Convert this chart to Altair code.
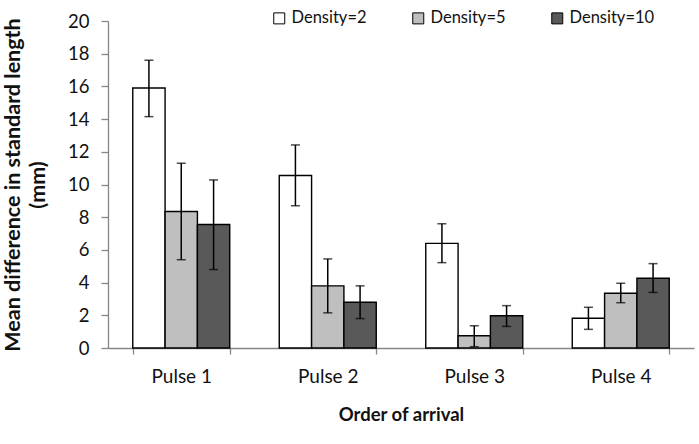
import altair as alt
import pandas as pd

pulses = ["Pulse 1", "Pulse 2", "Pulse 3", "Pulse 4"]
densities = ["Density=2", "Density=5", "Density=10"]
colors = ["#ffffff", "#bfbfbf", "#595959"]

# mean difference per pulse, one list per density
mean_d2 = [15.9, 10.55, 6.4, 1.82]
mean_d5 = [8.35, 3.8, 0.75, 3.35]
mean_d10 = [7.55, 2.8, 1.97, 4.27]

# error bar bounds
low_d2 = [14.15, 8.7, 5.22, 1.14]
high_d2 = [17.6, 12.42, 7.6, 2.49]
low_d5 = [5.4, 2.15, 0.08, 2.77]
high_d5 = [11.3, 5.45, 1.36, 3.96]
low_d10 = [4.8, 1.8, 1.32, 3.4]
high_d10 = [10.28, 3.8, 2.59, 5.16]

y_ticks = [0, 2, 4, 6, 8, 10, 12, 14, 16, 18, 20]

rows = []
for dens, means, lows, highs in [
    (densities[0], mean_d2, low_d2, high_d2),
    (densities[1], mean_d5, low_d5, high_d5),
    (densities[2], mean_d10, low_d10, high_d10),
]:
    for p, m, lo, hi in zip(pulses, means, lows, highs):
        rows.append({"pulse": p, "density": dens, "mean": m, "lo": lo, "hi": hi})
df = pd.DataFrame(rows)

FONT = "Lato"

x_enc = alt.X(
    "pulse:N",
    sort=pulses,
    scale=alt.Scale(paddingInner=0.338, paddingOuter=0.169),
    axis=alt.Axis(
        title="Order of arrival",
        labelAngle=0,
        tickBand="extent",
        tickSize=6,
        labelPadding=13,
        labelFontSize=19,
        titleFontSize=18.5,
        titlePadding=19,
    ),
)
xoff = alt.XOffset("density:N", sort=densities,
                   scale=alt.Scale(paddingInner=0, paddingOuter=0))

y_scale = alt.Scale(domain=[0, 20], nice=False)
y_axis = alt.Axis(
    title=["Mean difference in standard length", "(mm)"],
    values=y_ticks,
    labelOverlap=False,
    tickSize=7,
    labelPadding=12,
    labelFontSize=18.5,
    titleFontSize=21.5,
    titleLineHeight=25,
    titleX=-84,
    titleY=163.5,
    grid=False,
)


def y_of(field):
    return alt.Y(field, scale=y_scale, axis=y_axis)


base = alt.Chart(df)

bars = base.mark_bar(stroke="#000000", strokeWidth=1.4).encode(
    x=x_enc,
    xOffset=xoff,
    y=y_of("mean:Q"),
    fill=alt.Fill(
        "density:N",
        sort=densities,
        scale=alt.Scale(domain=densities, range=colors),
        legend=alt.Legend(
            title=None,
            orient="none",
            direction="horizontal",
            legendX=163,
            legendY=-11,
            symbolType="square",
            symbolSize=121,
            symbolStrokeColor="#000000",
            symbolStrokeWidth=1,
            labelFontSize=16.5,
            labelFont=FONT,
            labelColor="#111111",
            labelOffset=4,
            columnPadding=43,
        ),
    ),
)

whisk = base.mark_rule(color="#000000", strokeWidth=1.5).encode(
    x=x_enc, xOffset=xoff, y=y_of("lo:Q"), y2="hi:Q"
)
cap_hi = base.mark_tick(color="#000000", thickness=1.5, size=9, orient="horizontal").encode(
    x=x_enc, xOffset=xoff, y=y_of("hi:Q")
)
cap_lo = base.mark_tick(color="#000000", thickness=1.5, size=9, orient="horizontal").encode(
    x=x_enc, xOffset=xoff, y=y_of("lo:Q")
)

chart = (
    alt.layer(bars, whisk, cap_hi, cap_lo)
    .properties(
        width=586,
        height=327,
        autosize=alt.AutoSizeParams(type="none"),
        padding={"left": 108, "top": 21, "right": 5, "bottom": 96},
    )
    .configure_view(stroke=None)
    .configure_axis(
        domainColor="#868686",
        tickColor="#868686",
        domainWidth=1.3,
        tickWidth=1.3,
        labelFont=FONT,
        labelColor="#111111",
        titleFont=FONT,
        titleFontWeight="bold",
        titleColor="#111111",
    )
)

chart.save("out.html", embed_options={"renderer": "svg", "actions": False})
